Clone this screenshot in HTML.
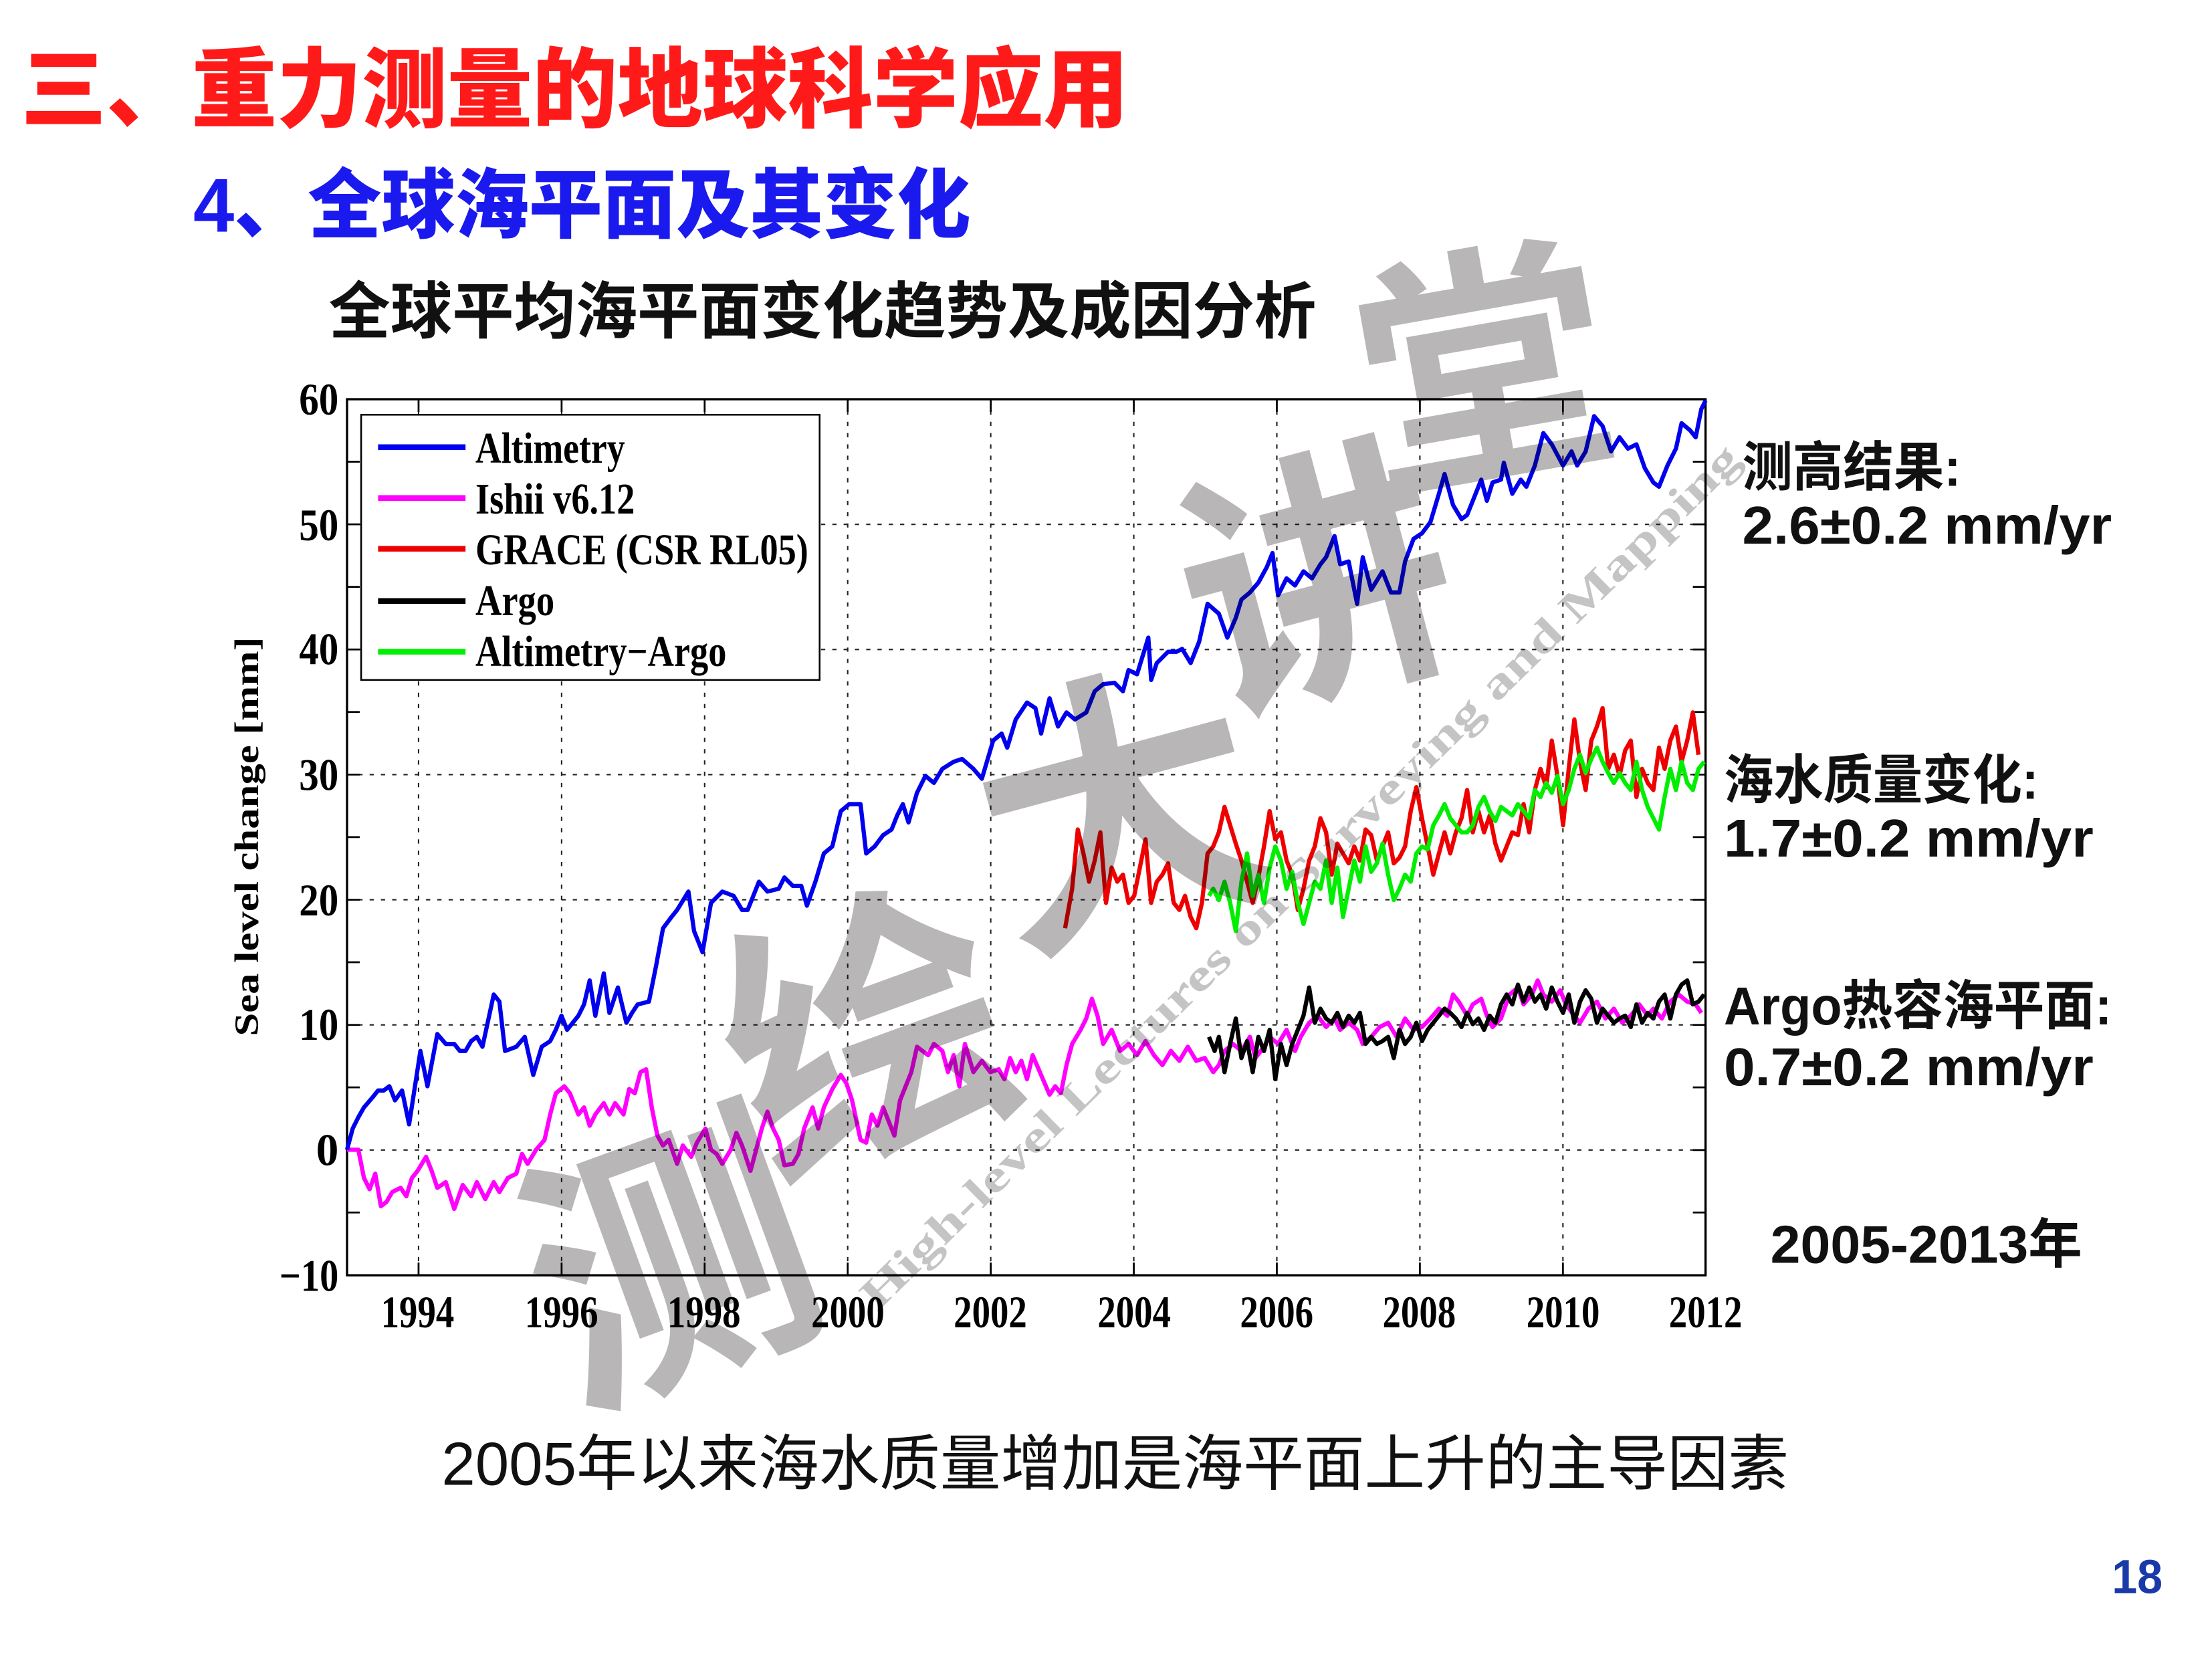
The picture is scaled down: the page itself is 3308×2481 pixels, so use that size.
<!DOCTYPE html>
<html><head><meta charset="utf-8"><style>
html,body{margin:0;padding:0;background:#fff;}
svg{display:block;}
.cjk{font-family:"Liberation Sans","Noto Sans CJK SC",sans-serif;}
.tm{font-family:"Liberation Serif",serif;font-weight:bold;}
</style></head><body>
<svg width="3308" height="2481" viewBox="0 0 1568 1176" xmlns="http://www.w3.org/2000/svg">
<rect width="1568" height="1176" fill="#fff"/>
<!-- titles -->
<text class="cjk" x="15" y="64" font-size="62" font-weight="900" fill="#ff1a1a" dominant-baseline="central" textLength="785" lengthAdjust="spacingAndGlyphs">三、重力测量的地球科学应用</text>
<text class="cjk" x="137" y="146" font-size="54" font-weight="900" fill="#1a1aee" dominant-baseline="central" textLength="551" lengthAdjust="spacingAndGlyphs">4、全球海平面及其变化</text>
<text class="cjk" x="233" y="221" font-size="44" font-weight="bold" fill="#111" dominant-baseline="central" textLength="700" lengthAdjust="spacingAndGlyphs">全球平均海平面变化趋势及成因分析</text>
<text class="cjk" x="313" y="1038" font-size="43" fill="#111" dominant-baseline="central" textLength="955" lengthAdjust="spacingAndGlyphs">2005年以来海水质量增加是海平面上升的主导因素</text>
<text class="cjk" x="1497" y="1118" font-size="34" font-weight="bold" fill="#1a3aa8" dominant-baseline="central" textLength="36" lengthAdjust="spacingAndGlyphs">18</text>

<g class="cjk" font-size="38" font-weight="bold" fill="#111" dominant-baseline="central">
<text x="1235" y="331" textLength="155" lengthAdjust="spacingAndGlyphs">测高结果:</text>
<text x="1235" y="372" textLength="262" lengthAdjust="spacingAndGlyphs">2.6±0.2 mm/yr</text>
<text x="1222" y="553" textLength="223" lengthAdjust="spacingAndGlyphs">海水质量变化:</text>
<text x="1222" y="594" textLength="262" lengthAdjust="spacingAndGlyphs">1.7±0.2 mm/yr</text>
<text x="1222" y="713" textLength="275" lengthAdjust="spacingAndGlyphs">Argo热容海平面:</text>
<text x="1222" y="756" textLength="262" lengthAdjust="spacingAndGlyphs">0.7±0.2 mm/yr</text>
<text x="1255" y="882" textLength="221" lengthAdjust="spacingAndGlyphs">2005-2013年</text>
</g>

<!-- grid -->
<g stroke="#222" stroke-width="1" stroke-dasharray="3,5" fill="none">
<path d="M296.7 283V904M398.1 283V904M499.5 283V904M600.9 283V904M702.3 283V904M803.7 283V904M905.1 283V904M1006.5 283V904M1107.9 283V904"/>
<path d="M246 371.7H1209M246 460.4H1209M246 549.1H1209M246 637.8H1209M246 726.5H1209M246 815.2H1209"/>
</g>
<!-- ticks -->
<g stroke="#000" stroke-width="1.3">
<path d="M296.7 283v9M398.1 283v9M499.5 283v9M600.9 283v9M702.3 283v9M803.7 283v9M905.1 283v9M1006.5 283v9M1107.9 283v9"/>
<path d="M296.7 904v-9M398.1 904v-9M499.5 904v-9M600.9 904v-9M702.3 904v-9M803.7 904v-9M905.1 904v-9M1006.5 904v-9M1107.9 904v-9"/>
<path d="M246 327.3h9M246 371.7h9M246 416h9M246 460.4h9M246 504.7h9M246 549.1h9M246 593.4h9M246 637.8h9M246 682.1h9M246 726.5h9M246 770.8h9M246 815.2h9M246 859.5h9"/>
<path d="M1209 327.3h-9M1209 371.7h-9M1209 416h-9M1209 460.4h-9M1209 504.7h-9M1209 549.1h-9M1209 593.4h-9M1209 637.8h-9M1209 682.1h-9M1209 726.5h-9M1209 770.8h-9M1209 815.2h-9M1209 859.5h-9"/>
</g>
<rect x="246" y="283" width="963" height="621" fill="none" stroke="#000" stroke-width="1.6"/>

<!-- tick labels -->
<g class="tm" font-size="32" fill="#000" text-anchor="end">
<text x="240" y="294" textLength="28" lengthAdjust="spacingAndGlyphs">60</text><text x="240" y="383" textLength="28" lengthAdjust="spacingAndGlyphs">50</text><text x="240" y="471" textLength="28" lengthAdjust="spacingAndGlyphs">40</text><text x="240" y="560" textLength="28" lengthAdjust="spacingAndGlyphs">30</text><text x="240" y="649" textLength="28" lengthAdjust="spacingAndGlyphs">20</text><text x="240" y="737" textLength="28" lengthAdjust="spacingAndGlyphs">10</text><text x="240" y="826">0</text><text x="240" y="915" textLength="42" lengthAdjust="spacingAndGlyphs">−10</text>
</g>
<g class="tm" font-size="32" fill="#000" text-anchor="middle">
<text x="296" y="941" textLength="52" lengthAdjust="spacingAndGlyphs">1994</text><text x="398" y="941" textLength="52" lengthAdjust="spacingAndGlyphs">1996</text><text x="499" y="941" textLength="52" lengthAdjust="spacingAndGlyphs">1998</text><text x="601" y="941" textLength="52" lengthAdjust="spacingAndGlyphs">2000</text><text x="702" y="941" textLength="52" lengthAdjust="spacingAndGlyphs">2002</text><text x="804" y="941" textLength="52" lengthAdjust="spacingAndGlyphs">2004</text><text x="905" y="941" textLength="52" lengthAdjust="spacingAndGlyphs">2006</text><text x="1006" y="941" textLength="52" lengthAdjust="spacingAndGlyphs">2008</text><text x="1108" y="941" textLength="52" lengthAdjust="spacingAndGlyphs">2010</text><text x="1209" y="941" textLength="52" lengthAdjust="spacingAndGlyphs">2012</text>
</g>
<text class="tm" font-size="24" fill="#000" text-anchor="middle" transform="translate(183 593) rotate(-90)" textLength="283" lengthAdjust="spacingAndGlyphs">Sea level change [mm]</text>

<!-- series -->
<g fill="none" stroke-width="3" stroke-linejoin="round">
<polyline stroke="#ff00ff" points="246,815 254,815 258,835 262,843 266,832 270,855 274,852 278,845 284,842 288,848 292,835 296,830 302,820 306,830 310,842 316,838 322,857 328,840 334,848 338,838 344,850 350,838 354,845 360,835 366,832 370,818 374,825 380,815 386,808 390,790 394,775 400,770 404,775 410,790 414,785 418,798 422,790 428,782 432,790 436,782 442,790 446,772 450,775 454,760 458,758 462,785 466,805 470,812 474,808 480,825 484,812 490,820 494,810 500,800 504,815 508,818 512,825 518,815 522,803 526,812 532,830 536,815 540,800 544,788 548,800 552,808 556,826 562,825 566,818 570,800 576,785 580,800 584,785 590,772 596,762 600,768 604,780 610,808 614,810 618,790 622,798 626,785 630,795 634,805 638,780 642,770 646,760 650,742 654,745 658,748 662,740 668,745 672,760 676,748 680,770 684,740 690,760 696,752 702,760 708,758 712,765 716,750 720,760 724,752 728,765 732,748 738,762 744,776 748,770 752,775 756,755 760,740 766,730 770,722 774,708 778,720 782,740 788,730 794,745 800,740 806,748 812,738 818,748 824,755 830,745 836,752 842,742 848,752 854,750 860,760 864,755 868,745 874,740 880,745 886,735 890,750 896,742 900,735 906,740 912,730 918,745 922,735 928,725 934,720 940,728 946,722 950,730 956,725 962,730 966,740 972,735 978,728 984,725 990,735 996,722 1002,730 1008,728 1014,722 1020,715 1026,720 1030,705 1034,710 1040,720 1044,712 1050,708 1054,720 1058,728 1064,722 1070,705 1076,700 1080,712 1086,705 1090,695 1094,705 1100,710 1106,702 1110,712 1116,720 1120,725 1126,715 1132,710 1138,722 1144,715 1150,725 1156,720 1162,712 1168,720 1172,715 1178,722 1184,710 1190,705 1196,710 1202,712 1206,718"/>
<polyline stroke="#0000ee" points="246,815 250,800 254,792 258,785 264,778 268,773 272,773 276,770 280,780 285,773 290,797 298,745 303,770 310,733 316,740 322,740 326,745 330,745 334,738 338,735 342,742 350,705 354,710 358,745 366,742 372,735 378,762 384,742 390,738 394,730 398,720 402,730 406,725 410,720 414,712 418,695 422,720 428,690 432,718 438,700 444,725 448,718 452,712 460,710 465,685 470,658 476,650 480,645 488,632 492,660 498,675 504,640 512,632 520,635 526,645 530,645 538,625 544,632 552,630 556,622 562,628 568,628 572,642 578,625 584,605 590,600 596,575 602,570 610,570 614,605 620,600 626,592 632,588 636,578 640,570 644,583 650,562 656,550 662,555 668,545 676,540 682,538 690,545 696,552 704,525 710,520 714,530 720,510 728,498 734,502 738,520 744,495 750,515 756,505 762,510 770,505 776,490 782,485 790,484 796,490 800,475 806,478 814,452 816,482 820,470 828,462 834,462 838,460 844,470 850,455 856,428 864,435 870,452 876,438 880,425 886,420 892,413 898,402 902,392 906,422 912,410 918,415 924,405 930,410 936,400 940,395 946,380 950,400 956,398 962,428 966,395 972,418 980,405 986,420 992,420 996,398 1002,382 1008,378 1014,370 1020,350 1024,336 1030,358 1036,368 1040,365 1046,350 1050,340 1054,355 1058,342 1064,340 1066,328 1072,350 1078,340 1082,345 1088,330 1094,307 1100,315 1108,330 1114,320 1118,330 1124,320 1130,295 1136,302 1142,320 1148,310 1154,318 1160,315 1166,332 1172,342 1176,345 1182,330 1188,318 1192,300 1198,305 1202,310 1206,290 1209,284"/>
<polyline stroke="#ee0000" points="755,658 760,630 764,588 768,605 772,625 776,610 780,590 784,640 788,615 792,625 796,620 800,640 804,635 808,615 812,595 816,640 820,625 824,620 828,612 832,640 836,645 840,635 844,650 848,658 852,640 856,605 860,600 864,590 868,572 872,585 876,598 880,610 884,625 888,640 892,622 896,600 900,575 904,595 908,590 912,610 916,620 920,645 924,630 928,610 932,600 936,580 940,590 944,620 948,598 952,605 956,612 960,600 964,610 968,588 972,592 976,610 980,600 984,590 988,612 992,608 996,600 1000,575 1004,558 1008,580 1012,600 1016,620 1020,605 1024,590 1028,605 1032,590 1036,580 1040,560 1044,590 1048,575 1052,590 1056,578 1060,598 1064,610 1068,600 1072,590 1076,592 1080,570 1084,590 1088,560 1092,545 1096,558 1100,525 1104,550 1108,585 1112,545 1116,510 1120,540 1124,560 1128,525 1132,515 1136,502 1140,545 1144,535 1148,550 1152,532 1156,525 1160,565 1164,545 1168,555 1172,560 1176,530 1180,545 1184,525 1188,515 1192,540 1196,525 1200,505 1204,535"/>
<polyline stroke="#00ee00" points="857,635 860,630 864,638 868,625 872,640 876,660 880,625 884,605 888,635 892,620 896,640 900,615 904,600 908,610 912,630 916,618 920,640 924,655 928,640 932,625 936,630 940,610 944,640 948,615 952,650 956,630 960,610 964,625 968,600 972,618 976,612 980,598 984,620 988,638 992,630 996,620 1000,625 1004,605 1008,600 1012,602 1016,585 1020,578 1024,570 1028,580 1032,585 1036,590 1040,590 1044,585 1048,572 1052,565 1056,575 1060,582 1064,572 1068,575 1072,578 1076,570 1080,575 1084,580 1088,560 1092,565 1096,555 1100,562 1104,550 1108,570 1112,560 1116,545 1120,535 1124,548 1128,538 1132,530 1136,540 1140,548 1144,555 1148,548 1152,555 1156,560 1160,540 1164,560 1168,572 1172,580 1176,588 1180,565 1184,545 1188,560 1192,540 1196,555 1200,560 1204,545 1208,540"/>
<polyline stroke="#000" points="857,735 861,745 864,735 868,760 872,740 876,722 880,750 884,738 888,760 892,735 896,745 900,730 904,765 908,740 912,755 916,740 920,730 924,720 928,700 932,725 936,715 940,722 944,725 948,718 952,728 956,720 960,725 964,718 968,740 972,735 976,740 980,738 984,735 988,750 992,730 996,740 1000,735 1004,725 1008,738 1012,730 1016,725 1020,720 1024,715 1028,718 1032,722 1036,728 1040,718 1044,726 1048,722 1052,730 1056,720 1060,725 1064,712 1068,705 1072,712 1076,698 1080,710 1084,700 1088,710 1092,705 1096,715 1100,700 1104,710 1108,718 1112,705 1116,725 1120,710 1124,702 1128,708 1132,725 1136,715 1140,720 1144,725 1148,722 1152,720 1156,728 1160,712 1164,725 1168,718 1172,722 1176,710 1180,705 1184,722 1188,705 1192,698 1196,695 1200,712 1204,710 1208,705"/>
</g>

<!-- legend -->
<rect x="256" y="294" width="325" height="188" fill="#fff" stroke="#000" stroke-width="1.2"/>
<g stroke-width="4">
<line x1="268" y1="317" x2="330" y2="317" stroke="#0000ee"/>
<line x1="268" y1="353" x2="330" y2="353" stroke="#ff00ff"/>
<line x1="268" y1="389" x2="330" y2="389" stroke="#ee0000"/>
<line x1="268" y1="426" x2="330" y2="426" stroke="#000"/>
<line x1="268" y1="462" x2="330" y2="462" stroke="#00ee00"/>
</g>
<g class="tm" font-size="31" fill="#000">
<text x="337" y="328" textLength="106" lengthAdjust="spacingAndGlyphs">Altimetry</text>
<text x="337" y="364" textLength="113" lengthAdjust="spacingAndGlyphs">Ishii v6.12</text>
<text x="337" y="400" textLength="236" lengthAdjust="spacingAndGlyphs">GRACE (CSR RL05)</text>
<text x="337" y="436" textLength="56" lengthAdjust="spacingAndGlyphs">Argo</text>
<text x="337" y="472" textLength="178" lengthAdjust="spacingAndGlyphs">Altimetry−Argo</text>
</g>

<!-- watermark -->
<g style="mix-blend-mode:multiply" fill="#b8b6b6" font-family="'WenQuanYi Zen Hei','Noto Sans CJK SC',sans-serif" font-weight="bold" text-anchor="middle" dominant-baseline="central">
<text font-size="200" transform="translate(470 880) rotate(-20)">测</text>
<text font-size="200" transform="translate(610 720) rotate(-20)">绘</text>
<text font-size="200" transform="translate(790 560) rotate(-15)">大</text>
<text font-size="190" transform="translate(930 400) rotate(-15)">讲</text>
<text font-size="180" transform="translate(1050 250) rotate(-10)">堂</text>
</g>
<text class="tm" font-size="31" fill="#c4c4c4" style="mix-blend-mode:multiply" transform="translate(622 930) rotate(-44.5)" textLength="860" lengthAdjust="spacingAndGlyphs">High-level Lectures on Surveying and Mapping</text>
</svg>
</body></html>
